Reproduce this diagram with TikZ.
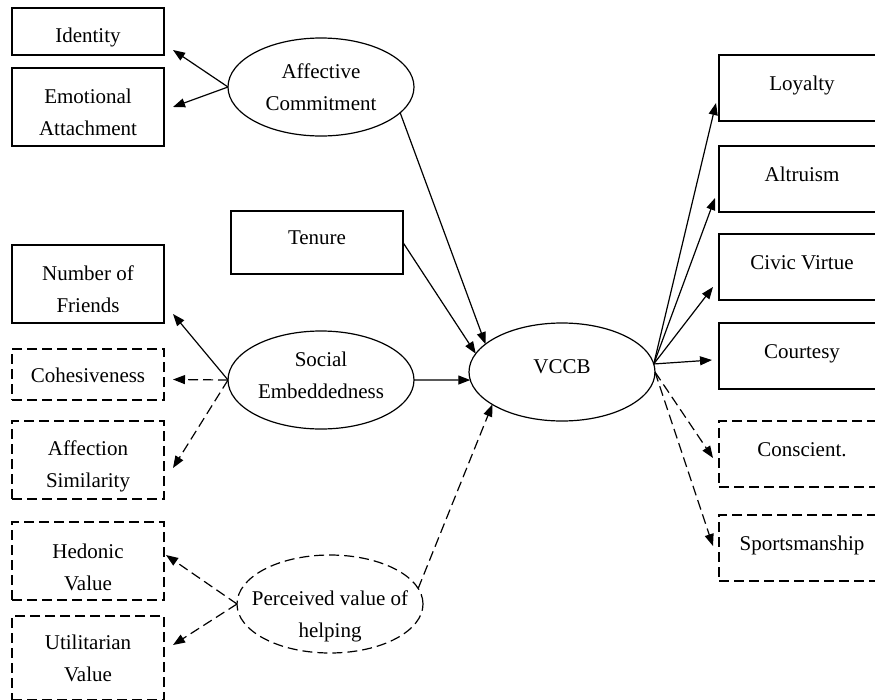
\documentclass[tikz,border=0pt]{standalone}
\usepackage{fontspec}
\setmainfont{Liberation Serif}
\usetikzlibrary{shapes.geometric,arrows.meta}

\begin{document}
\begin{tikzpicture}[x=1pt,y=-1pt,
    every node/.style={font=\fontsize{21}{32}\selectfont, outer sep=0pt, line width=1.2pt},
    ind/.style={draw, rectangle, anchor=north west, minimum width=152pt, inner xsep=0pt, inner ysep=0pt, align=center},
    rind/.style={ind, minimum width=166pt, text height=35pt, text depth=31pt},
    dsh/.style={dash pattern=on 10pt off 5pt},
    lat/.style={draw, ellipse, minimum width=186pt, minimum height=98pt, inner xsep=-20pt, inner ysep=-10pt, align=center},
    arr/.style={line width=1.2pt, -{Triangle[length=12pt,width=9pt]}},
    darr/.style={arr, dsh}]
            \useasboundingbox (0,0) rectangle (875,699);
            \node[ind, text height=34pt, text depth=13pt] (id) at (12,8) {Identity};
            \node[ind, minimum height=78pt, text height=58pt] (ea) at (12,68) {Emotional\\Attachment};
            \node[ind, minimum height=78pt, text height=57pt] (nf) at (12,245) {Number of\\Friends};
            \node[ind, dsh, text height=33pt, text depth=18pt] (coh) at (12,349) {Cohesiveness};
            \node[ind, dsh, minimum height=78pt, text height=60pt] (as) at (12,421) {Affection\\Similarity};
            \node[ind, dsh, minimum height=78pt, text height=59pt] (hv) at (12,522) {Hedonic\\Value};
            \node[ind, dsh, minimum height=84pt] (uv) at (12,616) {Utilitarian\\Value};
            \node[ind, minimum width=172pt, text height=33pt, text depth=30pt] (ten) at (231,211) {Tenure};
            \node[rind] (loy) at (719,55) {Loyalty};
            \node[rind] (alt) at (719,146) {Altruism};
            \node[rind] (cv) at (719,234) {Civic Virtue};
            \node[rind] (ct) at (719,323) {Courtesy};
            \node[rind, dsh] (cs) at (719,421) {Conscient.};
            \node[rind, dsh] (sp) at (719,515) {Sportsmanship};
            \node[lat] (ac) at (321,87) {Affective\\Commitment};
            \node[lat, text height=37pt] (se) at (321,380) {Social\\Embeddedness};
            \node[lat, dsh, text height=72pt] (pv) at (330,604) {Perceived value of\\helping};
            \node[lat, text depth=10pt] (vccb) at (562,372) {VCCB};
            \draw[arr] (ac.west) -- ([xshift=9pt,yshift=5pt]id.south east);
            \draw[arr] (ac.west) -- ([xshift=9pt]ea.east);
            \draw[arr] (ac.-18) -- (vccb.160);
            \draw[arr] (ten.east) -- (vccb.168);
            \draw[arr] (se.east) -- (vccb.185);
            \draw[arr] (se.west) -- ([xshift=9pt,yshift=9pt]nf.south east);
            \draw[darr] (se.west) -- ([xshift=9pt,yshift=-5pt]coh.east);
            \draw[darr] (se.west) -- ([xshift=9pt,yshift=-8pt]as.east);
            \draw[darr] (pv.west) -- ([xshift=2pt,yshift=6pt]hv.east);
            \draw[darr] (pv.west) -- ([xshift=9pt,yshift=13pt]uv.east);
            \draw[darr] (pv.10) -- (vccb.205);
            \draw[arr] (vccb.5) -- ([xshift=-3pt,yshift=18pt]loy.south west);
            \draw[arr] (vccb.5) -- ([xshift=-4pt,yshift=14pt]alt.south west);
            \draw[arr] (vccb.5) -- ([xshift=-6pt,yshift=13pt]cv.south west);
            \draw[arr] (vccb.5) -- ([xshift=-7pt,yshift=-4pt]ct.west);
            \draw[darr] (vccb.east) -- ([xshift=-6pt,yshift=-4pt]cs.west);
            \draw[darr] (vccb.east) -- ([xshift=-6pt,yshift=2pt]sp.west);
        \end{tikzpicture}
\end{document}
